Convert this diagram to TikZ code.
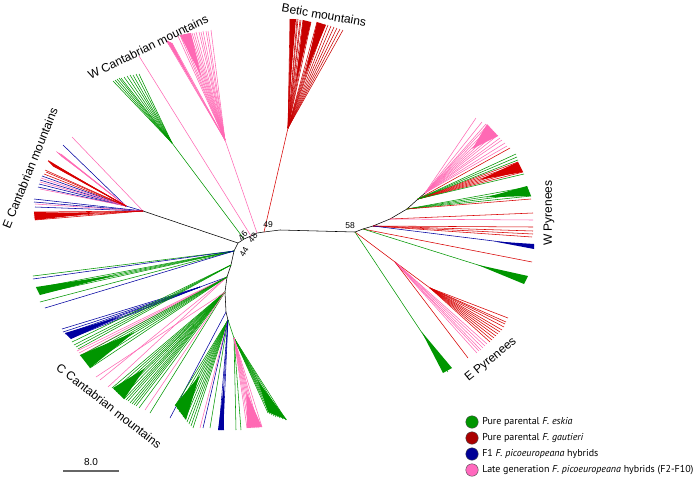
\documentclass[tikz,border=0pt]{standalone}
\usepackage{fontspec}
\setmainfont{Liberation Sans}
\newfontfamily\legfont{PT Sans}
\usetikzlibrary{calc}
\definecolor{cg}{RGB}{0,150,0}
\definecolor{cr}{RGB}{215,0,0}
\definecolor{cdr}{RGB}{200,0,0}
\definecolor{cb}{RGB}{0,0,160}
\definecolor{cp}{RGB}{255,105,180}
\definecolor{lgr}{RGB}{0,150,0}
\definecolor{lrd}{RGB}{170,0,0}
\definecolor{lbl}{RGB}{0,0,150}
\definecolor{lpk}{RGB}{255,105,190}
\newcommand{\fan}[3]{\foreach \px/\py [count=\k] in {#3}{\coordinate (#1#2\k) at (\px,\py); \draw[#2] (#1) -- (#1#2\k);}}
% hub, colour, tip a, tip b, fraction of the way where the solid part starts
\newcommand{\wfill}[5]{\fill[#2] ($(#1)!#5!($(#3)!0.5!(#4)$)$) -- (#3) -- (#4) -- cycle;}
\begin{document}
\begin{tikzpicture}[x=1pt,y=-1pt, line width=0.55pt,
  Lg/.style={draw=cg}, Lr/.style={draw=cr}, Ld/.style={draw=cdr},
  Lb/.style={draw=cb}, Lp/.style={draw=cp}, Lk/.style={draw=black},
  grp/.style={font=\fontsize{12}{14}\selectfont, inner sep=0pt},
  bs/.style={font=\fontsize{8.5}{10}\selectfont, inner sep=0pt},
  leg/.style={font=\legfont\fontsize{10}{12}\selectfont, anchor=west, inner sep=0pt},
  dot/.style={circle, minimum size=12.5pt, inner sep=0pt, draw=black!70, line width=0.4pt}]
\useasboundingbox (0,0) rectangle (697,477);

% ---- backbone ----
\coordinate (n46) at (238,243);
\coordinate (nA) at (244,239);
\coordinate (n48) at (251,236);
\coordinate (nB) at (257,233);
\coordinate (n49) at (264,232);
\coordinate (n49r) at (280,230);
\coordinate (n58) at (355,232);
\coordinate (c1) at (234,251);
\coordinate (c2) at (231,265);
\coordinate (c3) at (227,277);
\coordinate (c4) at (225,292);
\coordinate (c5) at (226,312);
\coordinate (c6) at (228,320);
\coordinate (c7) at (234,338);
\draw[Lk] (n46) -- (nA) -- (n48) -- (nB) -- (n49);
\draw[Lk] (n49) -- (n49r) -- (n58);
\draw[Lk] (n46) -- (c1) -- (c2) -- (c3) -- (c4) -- (c5) -- (c6);

% ---- E Cantabrian ----
\coordinate (ec0) at (143,211);
\coordinate (ec1) at (126,206);
\draw[Lk] (n46) -- (ec0);
\draw[Lb] (ec0) -- (ec1);
\fan{ec0}{Lp}{72/137}
\fan{ec1}{Lb}{63/145, 42/176, 40/180, 39/184, 38/187}
\fan{ec1}{Lp}{57/152,59/153,61/154,62/156, 41/178, 40/182, 40/189}
\wfill{ec1}{cp}{56,151}{62,157}{0.7}
\fan{ec1}{Lr}{48/161,49/162,50/163,51/164,52/165,53/166,45/170,46/172,44/174}
\wfill{ec1}{cr}{48,160}{53,166}{0.5}
\fan{ec0}{Lb}{34/199,34/202,35/207}
\fan{ec0}{Lp}{35/204}
\fan{ec0}{Lr}{34/212,34/214,34/216,34/218,35/220}
\wfill{ec0}{cr}{34,212}{35,220}{0.45}

% ---- W Cantabrian ----
\coordinate (wc1) at (172,143);
\coordinate (pc1) at (225,140);
\draw[Lg] (nA) -- (wc1);
\fan{wc1}{Lg}{113/81,115/80,117/79,119/78,121/78,124/77,127/76,130/75,133/75,136/74,139/74}
\fan{n48}{Lp}{139/56}
\draw[Lp] (nB) -- (pc1);
\fan{pc1}{Lp}{166/40,168/41,170/42,172/43,178/36,180/35,182/35,184/34,186/34,188/33,190/33,192/33,194/33,196/32,199/32,201/32,203/31,206/31,208/31,211/30}
\wfill{pc1}{cp}{166,40}{172,43}{0.55}
\wfill{pc1}{cp}{180,35}{191,33}{0.6}

% ---- Betic ----
\coordinate (bc1) at (288,128);
\draw[Lr] (n49) -- (bc1);
\fan{bc1}{Ld}{290/19,291/19,292/19,293/19,294/19,297/19,298/19,300/20,301/20,303/20,305/21,307/21,309/22,311/22,317/22,319/23,321/23,323/24,325/24,328/25,331/26,334/27,337/28,340/29,343/30}
\wfill{bc1}{cdr}{290,19}{296,19}{0.3}
\wfill{bc1}{cdr}{303,20}{311,22}{0.4}
\wfill{bc1}{cdr}{317,22}{326,25}{0.5}

% ---- W Pyrenees ----
\coordinate (wp1) at (363,229);
\coordinate (wp2) at (373,226);
\coordinate (wp3) at (390,219);
\coordinate (wp4) at (407,209);
\coordinate (wp5) at (418,199);
\coordinate (wp6) at (425,193);
\draw[Lk] (n58) -- (wp1) -- (wp2) -- (wp3) -- (wp4) -- (wp5) -- (wp6);
\fan{wp6}{Lp}{476/118,482/122,486/124,488/125,490/127,492/129,494/131,496/133,498/135,500/138,502/140,505/143,507/146}
\wfill{wp6}{cp}{487,124}{498,136}{0.7}
\fan{wp5}{Lr}{510/148,518/162,519/164,520/166,521/168,522/170,523/172}
\wfill{wp5}{cr}{518,162}{523,172}{0.6}
\fan{wp5}{Lg}{516/154,517/157,518/160,524/174}
\fan{wp4}{Lg}{528/187,529/190,530/193,531/196}
\wfill{wp4}{cg}{527,186}{531,196}{0.65}
\fan{wp4}{Lr}{531/199}
\fan{wp3}{Lr}{533/213}
\fan{wp3}{Lp}{533/220}
\fan{wp2}{Lr}{533/227,533/231,533/234,532/237}
\fan{wp2}{Lb}{534/246}
\wfill{wp2}{cb}{534,244}{534,249}{0.75}
\fan{wp1}{Lr}{532/262}
\fan{wp1}{Lg}{526/280}
\wfill{wp1}{cg}{528,276}{524,284}{0.7}

% ---- E Pyrenees ----
\coordinate (ep1) at (395,262);
\coordinate (ep2) at (430,288);
\draw[Lr] (n58) -- (ep1);
\draw[Lr] (ep1) -- (ep2);
\fan{ep1}{Lp}{477/353,479/351,481/350,483/348,485/346,487/344}
\fan{ep1}{Lr}{468/358}
\fan{ep2}{Lr}{490/342,492/340,494/338,496/336,498/334,500/332,502/330,504/327,505/324,506/322,508/318}
\fan{n58}{Lg}{448/372}
\wfill{n58}{cg}{443,373}{452,368}{0.72}

% ---- C Cantabrian ----
\fan{c1}{Lg}{33/276, 36/288, 37/290, 38/292, 39/294, 40/302}
\fan{c1}{Lb}{33/279, 45/308}
\wfill{c1}{cg}{36,287}{40,295}{0.6}
\coordinate (cbh) at (200,287);
\draw[Lb] (c3) -- (cbh);
\fan{cbh}{Lb}{62/329,63/332,65/334,67/335,69/337,71/338}
\wfill{cbh}{cb}{65,333}{71,339}{0.6}
\fan{c2}{Lg}{72/342,74/345,76/347,78/349}
\fan{c3}{Lp}{77/351,79/353,81/355,100/380,108/387}
\fan{c3}{Lg}{80/356,82/358,84/360,86/362,88/365,90/368}
\wfill{c3}{cg}{80,355}{90,368}{0.65}
\fan{c4}{Lg}{112/388,114/390,116/392,118/394,120/395,122/397,124/399,126/400,128/401,130/403,132/404,134/405,136/406,139/408,150/413}
\wfill{c4}{cg}{113,388}{124,399}{0.75}
\fan{c4}{Lp}{145/410, 96/377}
\fan{c5}{Lb}{170/418}
\fan{c6}{Lg}{175/406,177/409,179/412,181/414,183/417,185/419,187/422,189/424,191/426,193/428,210/428}
\wfill{c6}{cg}{175,405}{186,420}{0.6}
\fan{c6}{Lp}{200/428}
\fan{c6}{Lb}{203/428,219/430,221/430,223/430}
\wfill{c6}{cb}{218,430}{224,430}{0.6}
\draw[Lg] (c6) -- (c7);
\fan{c7}{Lg}{236/430,241/430,268/413,270/414,272/415,274/416,276/417,278/417,280/418,283/419,286/420}
\wfill{c7}{cg}{268,412}{287,420}{0.55}
\fan{c7}{Lp}{247/428,249/428,251/428,253/428,255/428,257/428,259/428,262/427}
\wfill{c7}{cp}{247,428}{262,427}{0.6}

% ---- bootstrap values ----
\node[bs] (b49) at (268,225) {49};
\node[bs] (b58) at (350,226) {58};
\node[bs, rotate=50] (b46) at (243,236) {46};
\node[bs, rotate=50] (b48) at (253,238) {48};
\node[bs, rotate=60] (b44) at (244,252) {44};

% ---- group labels ----
\node[grp, rotate=68] (lEC) at (30,168) {E Cantabrian mountains};
\node[grp, rotate=26] (lWC) at (148,47) {W Cantabrian mountains};
\node[grp, rotate=-10] (lBM) at (324,15) {Betic mountains};
\node[grp, rotate=90] (lWP) at (549,213) {W Pyrenees};
\node[grp, rotate=39] (lEP) at (491,360) {E Pyrenees};
\node[grp, rotate=-38] (lCC) at (109,406) {C Cantabrian mountains};

% ---- scale bar ----
\coordinate (sb1) at (63,471);
\coordinate (sb2) at (119,471);
\draw[draw=black!60, line width=1.3pt] (sb1) -- (sb2);
\node[font=\fontsize{10}{12}\selectfont, inner sep=0pt] (sbl) at (91,462) {8.0};

% ---- legend ----
\node[dot, fill=lgr] (d1) at (472,422) {};
\node[dot, fill=lrd] (d2) at (472,438) {};
\node[dot, fill=lbl] (d3) at (472,454) {};
\node[dot, fill=lpk] (d4) at (472,470) {};
\node[leg] (t1) at (482,422) {Pure parental \textit{F. eskia}};
\node[leg] (t2) at (482,438) {Pure parental \textit{F. gautieri}};
\node[leg] (t3) at (482,454) {F1 \textit{F. picoeuropeana} hybrids};
\node[leg] (t4) at (482,470) {Late generation \textit{F. picoeuropeana} hybrids (F2-F10)};
\end{tikzpicture}
\end{document}
